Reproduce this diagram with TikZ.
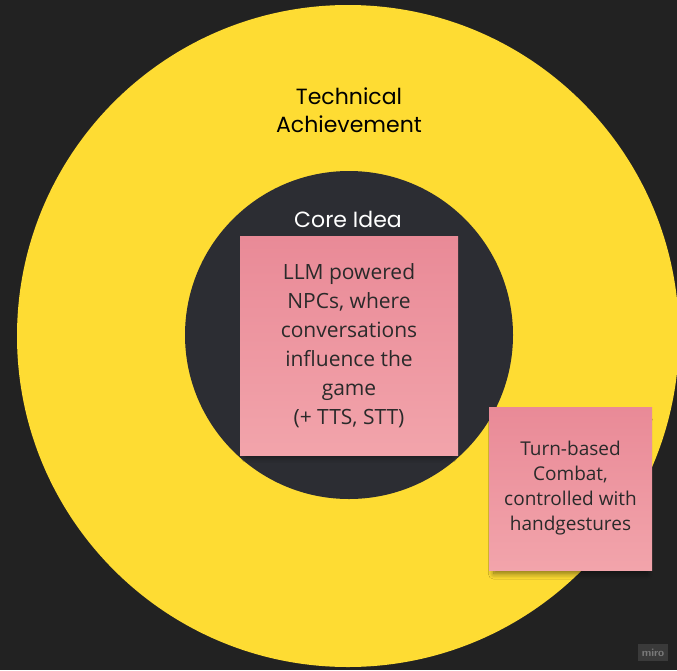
\documentclass[tikz,border=0pt]{standalone}
\usepackage{fontspec}
\setmainfont{Open Sans}
\newfontfamily\headfont{Poppins}
\usetikzlibrary{shadows.blur}
\definecolor{boardbg}{HTML}{222222}
\definecolor{outerring}{HTML}{FEDC33}
\definecolor{innerdisc}{HTML}{2C2D33}
\definecolor{notetop}{HTML}{E98A97}
\definecolor{notebottom}{HTML}{F2A4AB}
\definecolor{notetext}{HTML}{2A2A2A}
\definecolor{badgefill}{HTML}{3A3A3A}
\definecolor{badgetext}{HTML}{7A7A7A}
\tikzset{
  sticky/.style={rectangle, inner sep=0pt, top color=notetop, bottom color=notebottom,
    text=notetext, align=center,
    blur shadow={shadow xshift=0pt, shadow yshift=-9pt, shadow scale=0.94,
      shadow opacity=50, shadow blur radius=6pt, shadow blur steps=10}},
  ringlabel/.style={font=\headfont\fontsize{22}{28}\selectfont, align=center},
}
\begin{document}
\begin{tikzpicture}[x=1pt,y=-1pt]
  \useasboundingbox (0,0) rectangle (677,670);
  \fill[boardbg] (0,0) rectangle (677,670);
  \begin{scope}
    \clip (0,0) rectangle (677,670);
    % outer ring and inner disc
    \fill[outerring] (348,336) circle (331);
    \fill[innerdisc] (349,335) circle (164);
  \end{scope}

  \node[ringlabel, text=black] (tech) at (349,110) {Technical\\Achievement};
  \node[ringlabel, text=white] (core) at (348,219) {Core Idea};

  \node[sticky, minimum width=218, minimum height=219,
        font=\fontsize{21}{29}\selectfont] (llm) at (349,345.5)
    {LLM powered\\NPCs, where\\conversations\\influence the\\game\\(+ TTS, STT)};

  \node[sticky, minimum width=163, minimum height=163,
        font=\fontsize{19}{25}\selectfont] (turn) at (570.5,488.5)
    {Turn-based\\Combat,\\controlled with\\handgestures};

  % board watermark
  \node[fill=badgefill, text=badgetext, inner sep=0pt, minimum width=30, minimum height=17,
        font=\sffamily\bfseries\fontsize{11}{12}\selectfont] (badge) at (653,652.5) {miro};
\end{tikzpicture}
\end{document}
